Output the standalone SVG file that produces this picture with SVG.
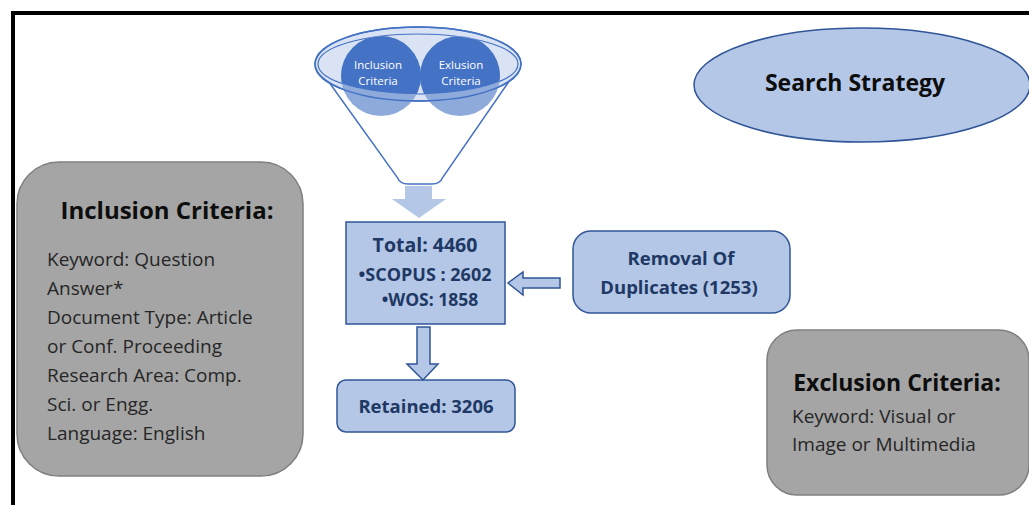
<svg xmlns="http://www.w3.org/2000/svg" width="1029" height="505" viewBox="0 0 1029 505">
  <style>
    .frame { fill: none; stroke: #000; stroke-width: 4; }
    .grayBox { fill: #a5a5a5; stroke: #7f7f7f; stroke-width: 1.5; }
    .blueBox { fill: #b4c7e7; stroke: #2f5597; stroke-width: 1.5; }
    .arrow { fill: #b4c7e7; stroke: #2f5597; stroke-width: 1.5; }
    .title { font-family: "Open Sans", "Liberation Sans", sans-serif; font-weight: bold; fill: #0d0d0d; }
    .body { font-family: "Open Sans", "Liberation Sans", sans-serif; fill: #262626; font-size: 19px; }
    .blueText { font-family: "Open Sans", "Liberation Sans", sans-serif; font-weight: bold; fill: #203864; text-anchor: middle; }
    .circleText { font-family: "Open Sans", "Liberation Sans", sans-serif; fill: #fff; font-size: 11.5px; text-anchor: middle; }
  </style>
  <defs>
    <clipPath id="topEllipse">
      <ellipse cx="418" cy="64" rx="100" ry="30"/>
    </clipPath>
  </defs>

  <rect width="1029" height="505" fill="#fff"/>
  <!-- outer frame, open at right and bottom -->
  <rect class="frame" x="13" y="13" width="1040" height="520"/>

  <!-- funnel with the two criteria circles -->
  <g id="funnel">
    <path d="M316,64 L397,177 Q400,184 408,184 L432,184 Q440,184 443,177 L521,64" fill="#fff" stroke="#4472c4" stroke-width="1.5"/>
    <ellipse cx="418" cy="64" rx="103" ry="37" fill="#dae3f3" stroke="#4472c4" stroke-width="1.5"/>
    <ellipse cx="418" cy="64" rx="100" ry="30" fill="#dae3f3" stroke="#4472c4" stroke-width="1.2"/>
    <circle cx="381" cy="76" r="40" fill="#8eaadb"/>
    <circle cx="460" cy="76" r="40" fill="#8eaadb"/>
    <g clip-path="url(#topEllipse)">
      <circle cx="381" cy="76" r="40" fill="#4472c4"/>
      <circle cx="460" cy="76" r="40" fill="#4472c4"/>
    </g>
    <ellipse cx="418" cy="64" rx="103" ry="37" fill="none" stroke="#4472c4" stroke-width="1.5"/>
    <text class="circleText" x="378" y="69">Inclusion</text>
    <text class="circleText" x="378" y="85">Criteria</text>
    <text class="circleText" x="461" y="69">Exlusion</text>
    <text class="circleText" x="461" y="85">Criteria</text>
  </g>

  <g id="search-strategy">
    <ellipse cx="862" cy="85" rx="168" ry="57" class="blueBox"/>
    <text class="title" x="855" y="91" font-size="23" text-anchor="middle">Search Strategy</text>
  </g>

  <g id="inclusion-criteria">
    <rect class="grayBox" x="17" y="162" width="286" height="314" rx="42"/>
    <text class="title" x="167" y="219" font-size="24" text-anchor="middle">Inclusion Criteria:</text>
    <text class="body" x="47" y="266">Keyword: Question</text>
    <text class="body" x="47" y="295">Answer*</text>
    <text class="body" x="47" y="324">Document Type: Article</text>
    <text class="body" x="47" y="353">or Conf. Proceeding</text>
    <text class="body" x="47" y="382">Research Area: Comp.</text>
    <text class="body" x="47" y="411">Sci. or Engg.</text>
    <text class="body" x="47" y="440">Language: English</text>
  </g>

  <g id="exclusion-criteria">
    <rect class="grayBox" x="767" y="330" width="262" height="165" rx="30"/>
    <text class="title" x="897" y="391" font-size="23" text-anchor="middle">Exclusion Criteria:</text>
    <text class="body" x="792" y="423">Keyword: Visual or</text>
    <text class="body" x="792" y="451">Image or Multimedia</text>
  </g>

  <g id="total">
    <rect class="blueBox" x="346" y="222" width="159" height="102"/>
    <text class="blueText" x="425" y="252" font-size="19.5">Total: 4460</text>
    <text class="blueText" x="425" y="281" font-size="18">•SCOPUS : 2602</text>
    <text class="blueText" x="430" y="306" font-size="17.5">•WOS: 1858</text>
  </g>

  <g id="retained">
    <rect class="blueBox" x="337" y="380" width="178" height="52" rx="9"/>
    <text class="blueText" x="426" y="413" font-size="18.5">Retained: 3206</text>
  </g>

  <g id="removal">
    <rect class="blueBox" x="573" y="231" width="217" height="82" rx="18"/>
    <text class="blueText" x="681" y="265" font-size="18.5">Removal Of</text>
    <text class="blueText" x="679" y="294" font-size="18.5">Duplicates (1253)</text>
  </g>

  <g id="connectors">
    <!-- funnel to total -->
    <path d="M405,186 L432,186 L432,199 L446,199 L419,218 L392,199 L405,199 Z" fill="#b4c7e7"/>
    <!-- total to retained -->
    <path class="arrow" d="M417,327 L430,327 L430,364 L438,364 L423,380 L407,364 L417,364 Z"/>
    <!-- removal to total -->
    <path class="arrow" d="M560,278 L523,278 L523,272 L508,283 L523,295 L523,288 L560,288 Z"/>
  </g>
</svg>
